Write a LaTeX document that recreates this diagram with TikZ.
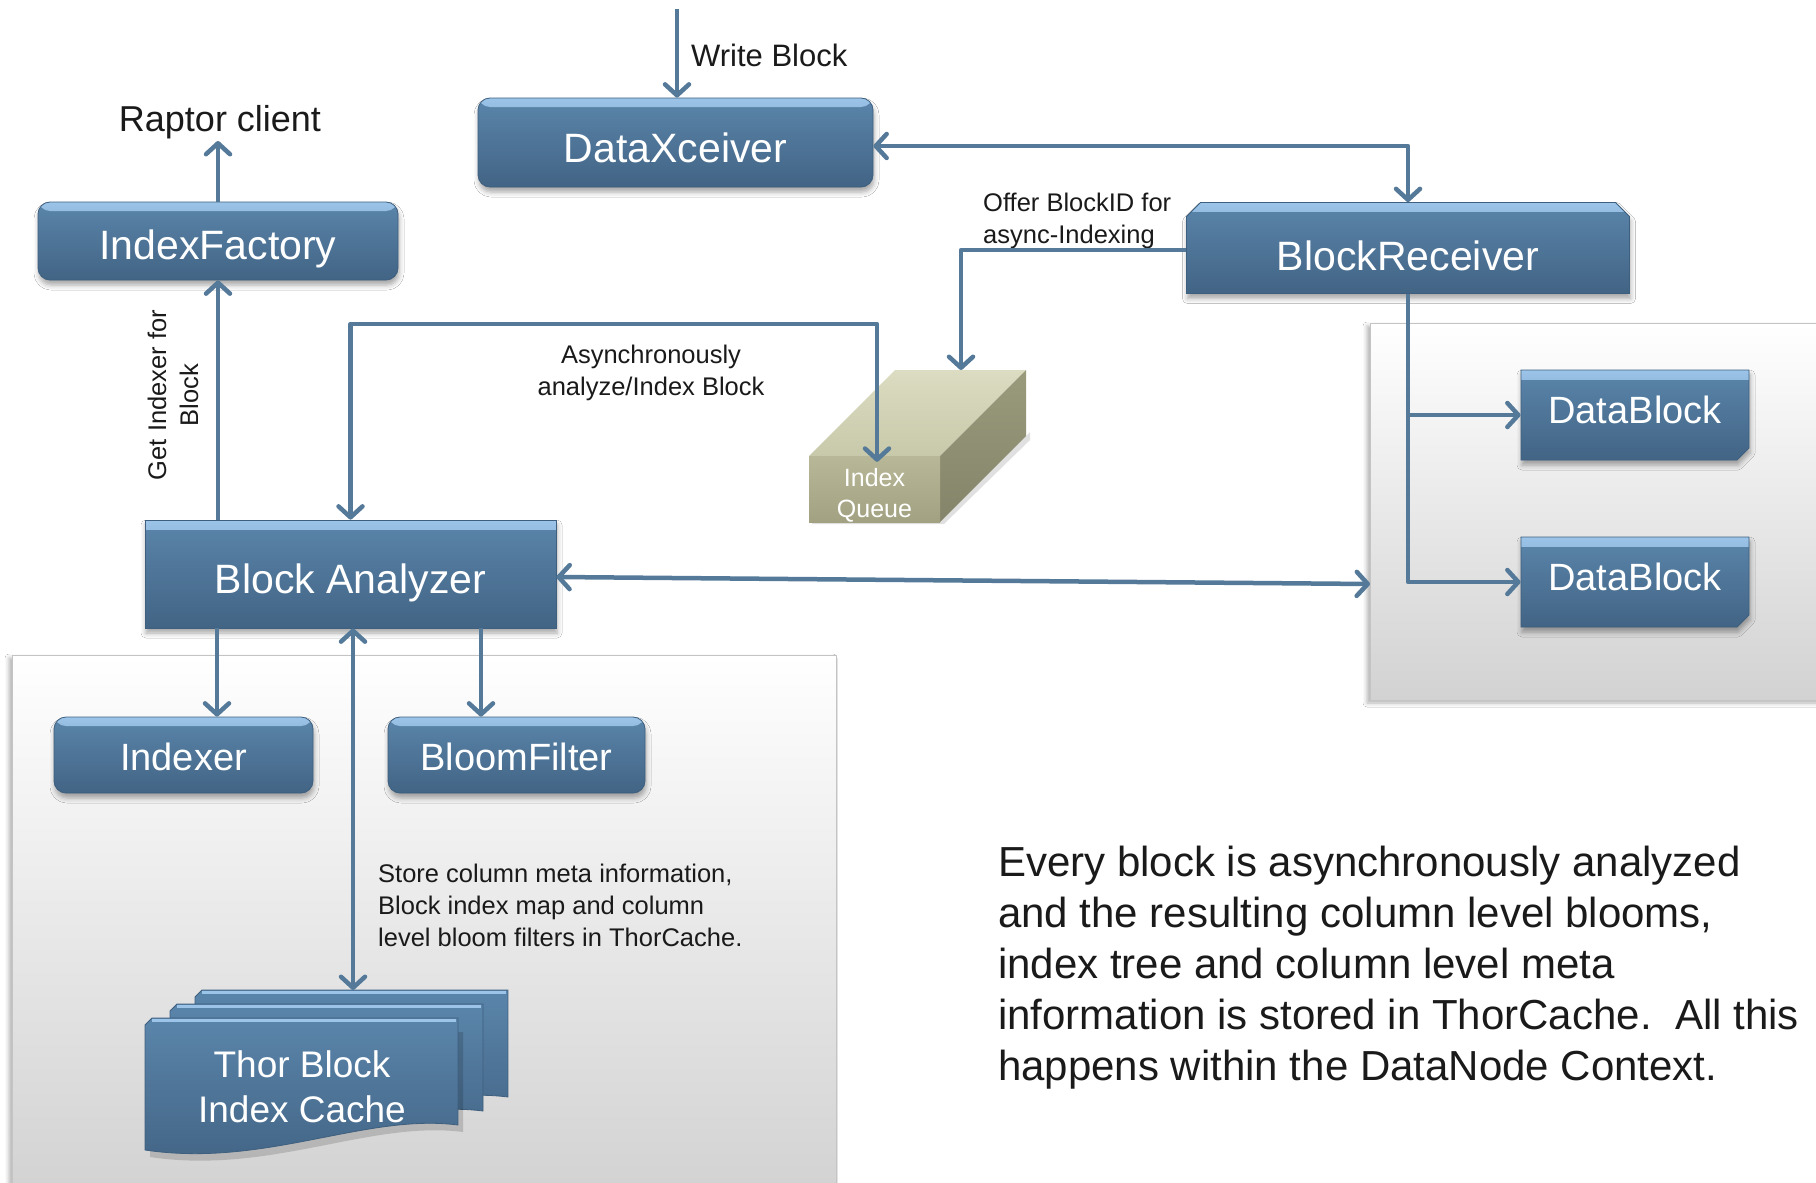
\documentclass[tikz,border=0pt]{standalone}
\usepackage{fontspec}
\setmainfont{Liberation Sans}
\usetikzlibrary{arrows.meta,shapes.misc,shadows.blur}

\definecolor{boxtop}{HTML}{5A85AA}
\definecolor{boxbot}{HTML}{426485}
\definecolor{boxhl}{HTML}{9CC4E8}
\definecolor{boxedge}{HTML}{3E5F7E}
\definecolor{linkc}{HTML}{557A99}
\definecolor{txt}{HTML}{1A1A1A}
\definecolor{qtop}{HTML}{DCDCC2}
\definecolor{qtopb}{HTML}{C8C8AA}
\definecolor{qfront}{HTML}{B8B898}
\definecolor{qfrontb}{HTML}{A2A282}
\definecolor{qside}{HTML}{9A9A7C}
\definecolor{qsideb}{HTML}{84846A}
\definecolor{panelb}{HTML}{D2D2D2}
\definecolor{paneledge}{HTML}{C4C4C4}

\tikzset{
  bluebox/.style={
    top color=boxtop, bottom color=boxbot, draw=boxedge, line width=0.8pt,
    text=white, inner sep=0pt,
    blur shadow={shadow xshift=1pt, shadow yshift=-5pt, shadow blur radius=5pt, shadow opacity=35},
    path picture={\shade[top color=boxhl, bottom color=boxtop]
      (path picture bounding box.north west) rectangle ([yshift=-9pt]path picture bounding box.north east);}
  },
  roundbox/.style={bluebox, rounded corners=12pt},
  topcut/.style={bluebox, chamfered rectangle, chamfered rectangle corners={north west,north east},
    chamfered rectangle xsep=7pt, chamfered rectangle ysep=7pt},
  snipbox/.style={bluebox, chamfered rectangle, chamfered rectangle corners={south east},
    chamfered rectangle xsep=6pt, chamfered rectangle ysep=6pt},
  panel/.style={top color=white, bottom color=panelb, draw=paneledge, line width=0.8pt,
    blur shadow={shadow xshift=-3pt, shadow yshift=-3pt, shadow blur radius=4pt, shadow opacity=30}},
  link/.style={draw=linkc, line width=4.5pt, line join=round},
  lbl/.style={text=txt, font=\fontsize{25.5}{32}\selectfont, inner sep=0pt},
  % baseline is set by text height: it sits text height/2 below the box centre
  bigfont/.style={font=\fontsize{41}{48}\selectfont, text height=40pt, text depth=0pt},
  midfont/.style={font=\fontsize{38}{46}\selectfont, text height=30pt, text depth=0pt},
  dbfont/.style={font=\fontsize{38}{46}\selectfont, text height=16pt, text depth=0pt},
  thordoc/.pic={
    \shade[top color=boxtop, bottom color=boxbot, draw=boxedge, line width=0.8pt]
      (0,7) -- (7,0) -- (313,0) -- (313,107) .. controls (220,95) and (120,150) .. (0,132) -- cycle;
    \draw[boxhl, line width=3pt] (7,2) -- (311,2);
  }
}

\begin{document}
\begin{tikzpicture}[x=1pt, y=-1pt,
  >={Straight Barb[length=11pt, width=24pt, line cap=round, line join=round]}]
\useasboundingbox (0,0) rectangle (1816,1183);
\fill[white] (0,0) rectangle (1816,1183);

% grey panels behind the lower-left and right groups
\node[panel, minimum width=824pt, minimum height=540pt, inner sep=0pt] (leftpanel) at (424,925) {};
\node[panel, minimum width=460pt, minimum height=377pt, inner sep=0pt] (rightpanel) at (1600,511.5) {};

% main processing boxes
\node[roundbox, bigfont, minimum width=395pt, minimum height=89pt] (dx) at (675.5,142.5) {DataXceiver};
\node[roundbox, bigfont, text height=36pt, minimum width=360pt, minimum height=78pt] (ifac) at (218,241) {IndexFactory};
\node[topcut, bigfont, text height=44pt, minimum width=443pt, minimum height=91pt] (brecv) at (1408,248) {BlockReceiver};
\node[bluebox, bigfont, text height=38pt, minimum width=411pt, minimum height=108pt] (ba) at (350.5,574) {Block Analyzer};
\node[snipbox, dbfont, minimum width=228pt, minimum height=90pt] (db1) at (1635,415) {DataBlock};
\node[snipbox, dbfont, minimum width=228pt, minimum height=90pt] (db2) at (1635,582) {DataBlock};
\node[roundbox, midfont, minimum width=259pt, minimum height=76pt] (idx) at (183.5,755) {Indexer};
\node[roundbox, midfont, minimum width=257pt, minimum height=76pt] (bf) at (516.5,755) {BloomFilter};

% index queue drawn as a box in perspective
\fill[black, opacity=0.12] (812,524) -- (944,524) -- (1030,440) -- (1030,432) -- (944,518) -- (812,518) -- cycle;
\shade[top color=qtop, bottom color=qtopb] (809,456) -- (895,370) -- (1026,370) -- (940,456) -- cycle;
\shade[top color=qside, bottom color=qsideb] (940,456) -- (1026,370) -- (1026,436) -- (940,522) -- cycle;
\shade[top color=qfront, bottom color=qfrontb] (809,456) rectangle (940,522);
\node[minimum width=131pt, minimum height=66pt, inner sep=0pt, text=white, align=center,
  font=\fontsize{25}{31}\selectfont] (iqf) at (874.5,495) {Index\\Queue};
\coordinate (iqtop) at (961,370);

% stacked cache documents
\path (195,990) pic {thordoc};
\path (170,1004) pic {thordoc};
\fill[black, opacity=0.15] (150,1032) -- (463,1032) -- (463,1132) .. controls (370,1120) and (270,1175) .. (150,1157) -- cycle;
\path (145,1018) pic {thordoc};
\node[text=white, align=center, font=\fontsize{37}{45}\selectfont, inner sep=0pt] (cache) at (302,1087) {Thor Block\\Index Cache};
\coordinate (cachetop) at (353,990);

% free ends and tap points
\coordinate (wtop) at (677,9);
\coordinate (asyncturn) at (877,324);
\coordinate (ia) at (217,0);
\coordinate (ib) at (481,0);
\coordinate (rpin) at (1370,584);

% text labels
\node[lbl, font=\fontsize{31}{36}\selectfont, anchor=west] (wlabel) at (691,55) {Write Block};
\node[text=txt, font=\fontsize{36}{42}\selectfont, inner sep=2pt] (rc) at (220,122) {Raptor client};
\node[lbl, anchor=west, align=left] (offer) at (983,221) {Offer BlockID for\\async-Indexing};
\node[lbl, align=center] (asynclbl) at (651,373) {Asynchronously\\analyze/Index Block};
\node[lbl, align=center, rotate=90] (getidx) at (173,395) {Get Indexer for\\Block};
\node[lbl, anchor=west, align=left] (storelbl) at (378,905) {Store column meta information,\\Block index map and column\\level bloom filters in ThorCache.};
\node[text=txt, font=\fontsize{42}{51}\selectfont, anchor=west, align=left, inner sep=0pt] (note) at (998,968)
  {Every block is asynchronously analyzed\\and the resulting column level blooms,\\index tree and column level meta\\information is stored in ThorCache.\ \ All this\\happens within the DataNode Context.};

% connectors
\draw[link, ->] (wtop) -- (wtop |- dx.north);
\draw[link, <->] ([yshift=-3.5pt]dx.east) -| (brecv.north);
\draw[link, ->] (ifac.north) -- (ifac.north |- rc.south);
\draw[link, ->] (ba.north -| ifac.south) -- (ifac.south);
\draw[link, <->] (ba.north) |- (asyncturn) -- (asyncturn |- iqf.north);
\draw[link, ->] ([yshift=-2pt]brecv.west) -| (iqtop);
\draw[link, ->] (brecv.south) |- (db1.west);
\draw[link, ->] (brecv.south) |- (db2.west);
\draw[link, <->] ([yshift=-3pt]ba.east) -- (rpin);
\draw[link, ->] (ba.south -| ia) -- (idx.north -| ia);
\draw[link, ->] (ba.south -| ib) -- (bf.north -| ib);
\draw[link, <->] (ba.south -| cachetop) -- (cachetop);
\end{tikzpicture}
\end{document}
